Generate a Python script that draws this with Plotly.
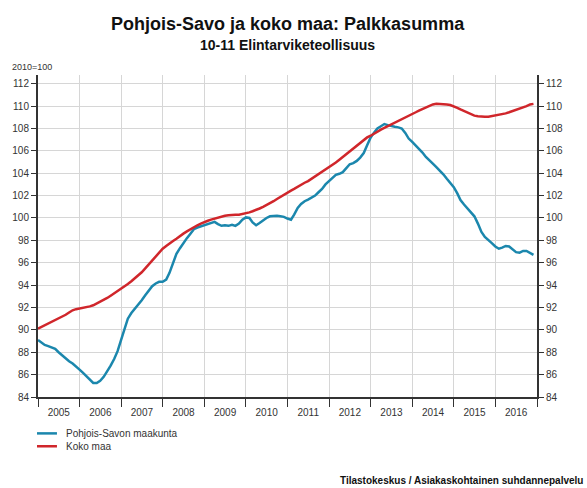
import pandas as pd
import plotly.graph_objects as go

# Monthly index values, 2010=100, January 2005 - December 2016
months = pd.date_range("2005-01-01", "2016-12-01", freq="MS")

pohjois_savo = [
    # 2005
    89.1, 88.85, 88.65, 88.55, 88.45, 88.3, 88.0, 87.7, 87.4, 87.2, 87.0, 86.75,
    # 2006
    86.45, 86.15, 85.85, 85.5, 85.25, 85.25, 85.45, 85.8, 86.25, 86.8, 87.4, 88.1,
    # 2007
    89.1, 90.2, 91.0, 91.5, 91.85, 92.2, 92.65, 93.1, 93.55, 93.9, 94.15, 94.3,
    # 2008
    94.3, 94.5, 95.1, 96.0, 96.8, 97.3, 97.8, 98.2, 98.6, 99.0, 99.15, 99.25,
    # 2009
    99.3, 99.4, 99.5, 99.65, 99.45, 99.3, 99.35, 99.3, 99.4, 99.3, 99.5, 99.85,
    # 2010
    100.05, 100.0, 99.6, 99.35, 99.55, 99.8, 100.0, 100.15, 100.2, 100.2, 100.15, 100.1,
    # 2011
    99.95, 99.85, 100.3, 100.9, 101.25, 101.5, 101.65, 101.8, 102.0, 102.3, 102.6, 103.0,
    # 2012
    103.3, 103.6, 103.85, 103.95, 104.1, 104.45, 104.8, 104.9, 105.1, 105.4, 105.8, 106.5,
    # 2013
    107.2, 107.65, 108.0, 108.2, 108.4, 108.3, 108.2, 108.15, 108.1, 108.0, 107.6, 107.1,
    # 2014
    106.8, 106.5, 106.2, 105.85, 105.45, 105.1, 104.85, 104.55, 104.25, 103.9, 103.5, 103.1,
    # 2015
    102.75, 102.2, 101.6, 101.2, 100.85, 100.55, 100.15, 99.5, 98.75, 98.3, 98.05, 97.75,
    # 2016
    97.45, 97.25, 97.35, 97.5, 97.45, 97.2, 96.95, 96.9, 97.05, 97.05, 96.9, 96.7,
]

koko_maa = [
    # 2005
    90.1, 90.25, 90.4, 90.55, 90.7, 90.85, 91.0, 91.15, 91.35, 91.55, 91.75, 91.85,
    # 2006
    91.9, 91.95, 92.0, 92.1, 92.2, 92.35, 92.5, 92.65, 92.85, 93.05, 93.25, 93.45,
    # 2007
    93.7, 93.9, 94.1, 94.35, 94.6, 94.85, 95.15, 95.5, 95.85, 96.25, 96.6, 96.95,
    # 2008
    97.25, 97.5, 97.75, 97.95, 98.15, 98.4, 98.6, 98.8, 99.0, 99.2, 99.35, 99.5,
    # 2009
    99.65, 99.75, 99.85, 99.95, 100.05, 100.1, 100.2, 100.25, 100.3, 100.3, 100.3, 100.35,
    # 2010
    100.4, 100.5, 100.6, 100.7, 100.85, 101.0, 101.15, 101.3, 101.5, 101.7, 101.9, 102.1,
    # 2011
    102.25, 102.45, 102.6, 102.8, 102.95, 103.15, 103.3, 103.5, 103.7, 103.9, 104.1, 104.3,
    # 2012
    104.5, 104.7, 104.95, 105.2, 105.45, 105.7, 105.95, 106.2, 106.45, 106.7, 106.95, 107.2,
    # 2013
    107.35, 107.55, 107.75, 107.9, 108.05, 108.2, 108.35, 108.5, 108.65, 108.8, 108.95, 109.15,
    # 2014
    109.3, 109.45, 109.6, 109.75, 109.9, 110.05, 110.15, 110.2, 110.2, 110.2, 110.15, 110.1,
    # 2015
    110.0, 109.85, 109.7, 109.55, 109.4, 109.25, 109.15, 109.1, 109.05, 109.05, 109.05, 109.1,
    # 2016
    109.15, 109.2, 109.3, 109.35, 109.45, 109.55, 109.65, 109.75, 109.9, 110.0, 110.15, 110.2,
]

y_ticks = list(range(84, 113, 2))
series_names = ["Pohjois-Savon maakunta", "Koko maa"]
BLUE = "#1b87ad"
RED = "#d0262b"
FONT = "Liberation Sans, Arial, sans-serif"
TEXT = "#333333"
AXIS = "#333333"
GRID = "#d6d6d6"
Y_RANGE = [84, 112.78]

fig = go.Figure()
fig.add_trace(go.Scatter(x=months, y=pohjois_savo, mode="lines", name=series_names[0],
                         line=dict(color=BLUE, width=2.5)))
fig.add_trace(go.Scatter(x=months, y=koko_maa, mode="lines", name=series_names[1],
                         line=dict(color=RED, width=2.5), yaxis="y2"))

axis_common = dict(
    range=Y_RANGE, tickvals=y_ticks, ticks="outside", ticklen=5, tickcolor=AXIS,
    tickwidth=1, showline=True, linecolor=AXIS, linewidth=2, zeroline=False,
    tickfont=dict(family=FONT, size=10, color=TEXT), fixedrange=True,
)

fig.update_layout(
    width=587, height=488,
    margin=dict(l=35, r=50, t=75, b=91),
    paper_bgcolor="white", plot_bgcolor="white",
    showlegend=False,
    font=dict(family=FONT, color=TEXT),
    xaxis=dict(
        type="date", range=["2005-01-01", "2017-01-01"],
        tick0="2005-01-01", dtick="M12", tickformat="%Y", ticklabelmode="period",
        ticks="outside", ticklen=8, tickcolor=AXIS, tickwidth=1, ticklabelstandoff=-3,
        showline=True, linecolor=AXIS, linewidth=2,
        showgrid=True, gridcolor=GRID, gridwidth=1.2,
        tickfont=dict(family=FONT, size=10, color=TEXT),
    ),
    yaxis=dict(showgrid=True, gridcolor=GRID, gridwidth=1.2, **axis_common),
    yaxis2=dict(overlaying="y", side="right", showgrid=False, **axis_common),
)

# Titles and unit note
fig.add_annotation(text="<b>Pohjois-Savo ja koko maa: Palkkasumma</b>", xref="paper", yref="paper",
                   x=0.5, y=1.159, xanchor="center", yanchor="middle", showarrow=False,
                   font=dict(family=FONT, size=18, color="#111111"))
fig.add_annotation(text="<b>10-11 Elintarviketeollisuus</b>", xref="paper", yref="paper",
                   x=0.5, y=1.092, xanchor="center", yanchor="middle", showarrow=False,
                   font=dict(family=FONT, size=14, color="#111111"))
fig.add_annotation(text="2010=100", xref="paper", yref="paper",
                   x=-0.056, y=1.025, xanchor="left", yanchor="middle", showarrow=False,
                   font=dict(family=FONT, size=9, color=TEXT))

# Legend drawn below the plot
legend_rows = [(series_names[0], BLUE, -0.113), (series_names[1], RED, -0.153)]
for label, color, yy in legend_rows:
    fig.add_shape(type="line", xref="paper", yref="paper", x0=-0.002, x1=0.038,
                  y0=yy, y1=yy, line=dict(color=color, width=2.5))
    fig.add_annotation(text=label, xref="paper", yref="paper", x=0.052, y=yy,
                       xanchor="left", yanchor="middle", showarrow=False,
                       font=dict(family=FONT, size=10, color=TEXT))

# Source
fig.add_annotation(text="<b>Tilastokeskus / Asiakaskohtainen suhdannepalvelu</b>",
                   xref="paper", yref="paper", x=1.097, y=-0.259,
                   xanchor="right", yanchor="middle", showarrow=False,
                   font=dict(family=FONT, size=10, color="#111111"))

fig.write_html("out.html")
